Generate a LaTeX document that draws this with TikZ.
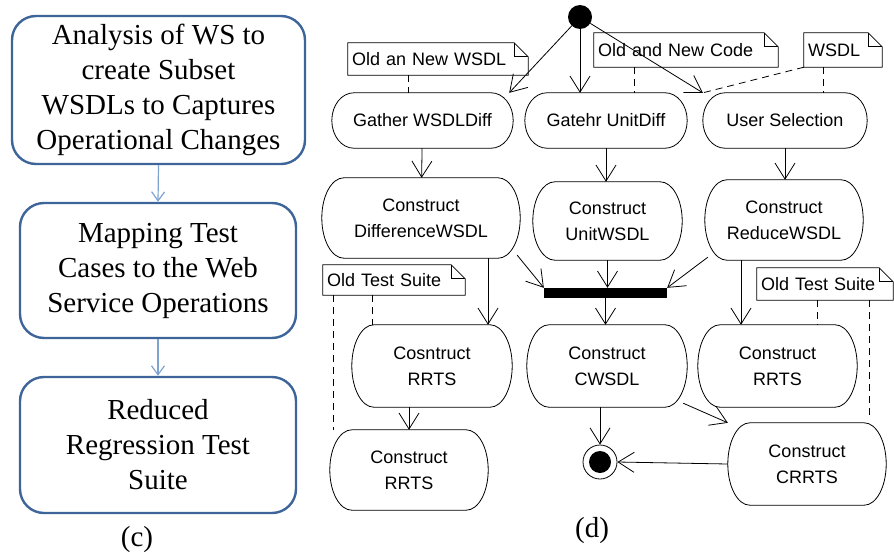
\documentclass[tikz,border=0pt]{standalone}
\usepackage{fontspec}
\setmainfont{Liberation Serif}
\newfontfamily\umlfont{Liberation Sans}
\usetikzlibrary{arrows.meta}
\usetikzlibrary{calc}
\definecolor{boxblue}{HTML}{3E6599}
\definecolor{linkblue}{HTML}{7FA3D0}
\def\umltext{\umlfont\fontsize{18}{26}\selectfont}
% note with folded corner: name, position, text width, height, text
\def\umlnote#1#2#3#4#5{
  \node [note, text width=#3, minimum height=#4] (#1) at (#2) {#5};
  \draw [line width=0.8pt] ([xshift=-14pt]#1.north east) -- (#1.north west)
    -- (#1.south west) -- (#1.south east) -- ([yshift=-14pt]#1.north east) -- cycle;
  \draw [line width=0.8pt] ([xshift=-14pt]#1.north east) |- ([yshift=-14pt]#1.north east);
}
% action with half-elliptic ends: name, position, width, height, text
\def\umlaction#1#2#3#4#5{
  \node [action, minimum width=#3, minimum height=#4] (#1) at (#2) {#5};
  \coordinate (#1-tr) at ([xshift=-22pt]#1.north east);
  \coordinate (#1-br) at ([xshift=-22pt]#1.south east);
  \coordinate (#1-bl) at ([xshift=22pt]#1.south west);
  \coordinate (#1-tl) at ([xshift=22pt]#1.north west);
  \draw [line width=0.8pt] (#1-tl) -- (#1-tr)
    .. controls ($(#1-tr)!0.552!(#1.north east)$) and ($(#1.east)!0.552!(#1.north east)$) .. (#1.east)
    .. controls ($(#1.east)!0.552!(#1.south east)$) and ($(#1-br)!0.552!(#1.south east)$) .. (#1-br)
    -- (#1-bl)
    .. controls ($(#1-bl)!0.552!(#1.south west)$) and ($(#1.west)!0.552!(#1.south west)$) .. (#1.west)
    .. controls ($(#1.west)!0.552!(#1.north west)$) and ($(#1-tl)!0.552!(#1.north west)$) .. (#1-tl);
}

\begin{document}
\begin{tikzpicture}[x=1pt, y=-1pt,
  stepbox/.style={draw=boxblue, line width=2.4pt, rounded corners=24pt,
    align=center, font=\fontsize{29}{35}\selectfont, inner sep=2pt},
  bluelink/.style={draw=linkblue, line width=1.2pt,
    -{Straight Barb[length=9pt,width=13pt]}},
  action/.style={align=center, font=\umltext, inner sep=2pt},
  flow/.style={line width=0.8pt, -{Straight Barb[length=16pt,width=20pt]}},
  anchorline/.style={line width=0.8pt, dash pattern=on 7pt off 5pt},
  note/.style={font=\umltext, align=left, inner xsep=4pt, inner ysep=1pt}
]
\useasboundingbox (0,0) rectangle (894,554);

% (c) the three steps
\node [stepbox, minimum width=293pt, minimum height=148pt] (analysis) at (158.5,90)
  {Analysis of WS to\\create Subset\\WSDLs to Captures\\Operational Changes};
\node [stepbox, minimum width=276pt, minimum height=135pt] (mapping) at (158,270.5)
  {Mapping Test\\Cases to the Web\\Service Operations};
\node [stepbox, minimum width=276pt, minimum height=136pt] (reduced) at (158,445)
  {Reduced\\Regression Test\\Suite};
\draw [bluelink] (analysis.south) -- (mapping.north);
\draw [bluelink] (mapping.south) -- (reduced.north);
\node [font=\fontsize{29}{35}\selectfont] (labelc) at (137,540) {(c)};

% (d) activity diagram
\node [circle, fill, minimum size=24pt, inner sep=0pt] (start) at (580,17) {};

\umlnote{wsdlnote}{438,59}{172pt}{32pt}{Old an New WSDL}
\umlnote{codenote}{686,50}{176pt}{34pt}{Old and New Code}
\umlnote{usernote}{843,50}{70pt}{34pt}{WSDL}
\umlnote{suitenoteA}{394,280}{134pt}{30pt}{Old Test Suite}
\umlnote{suitenoteB}{825,284}{128pt}{32pt}{Old Test Suite}

\umlaction{gather}{422.5,120.5}{181pt}{55pt}{Gather WSDLDiff}
\umlaction{unitdiff}{606,120.5}{162pt}{55pt}{Gatehr UnitDiff}
\umlaction{usersel}{785,120.5}{164pt}{55pt}{User Selection}

\umlaction{diffwsdl}{421,218}{198pt}{80pt}{Construct\\DifferenceWSDL}
\umlaction{unitwsdl}{607.5,221}{149pt}{78pt}{Construct\\UnitWSDL}
\umlaction{reducewsdl}{784,220}{158pt}{80pt}{Construct\\ReduceWSDL}

\node [fill, minimum width=123pt, minimum height=10pt, inner sep=0pt] (bar) at (605.5,293) {};

\umlaction{rrtsA}{432,366}{160pt}{82pt}{Cosntruct\\RRTS}
\umlaction{cwsdl}{607,366}{160pt}{82pt}{Construct\\CWSDL}
\umlaction{rrtsC}{777.5,366}{159pt}{82pt}{Construct\\RRTS}
\umlaction{rrtsB}{409,470}{158pt}{80pt}{Construct\\RRTS}
\umlaction{crrts}{807,464}{158pt}{82pt}{Construct\\CRRTS}

\node [circle, draw, line width=0.8pt, minimum size=34pt, inner sep=0pt] (final) at (600,462) {};
\node [circle, fill, minimum size=22pt, inner sep=0pt] (finaldot) at (final) {};

\node [font=\fontsize{29}{35}\selectfont] (labeld) at (592,531) {(d)};

% dashed note anchors
\coordinate (wsdlfoot) at ([xshift=-30pt]wsdlnote.south);
\coordinate (codefoot) at ([xshift=-52pt]codenote.south);
\coordinate (userfoot) at ([xshift=-20pt]usernote.south);
\coordinate (suitefootA) at ([xshift=-22pt]suitenoteA.south);
\coordinate (suitelongA) at ([xshift=-61pt]suitenoteA.south);
\coordinate (suitefootB) at ([xshift=-8pt]suitenoteB.south);
\coordinate (suitelongB) at ([xshift=44pt]suitenoteB.south);
\draw [anchorline] (wsdlfoot) -- (wsdlfoot |- gather.north);
\draw [anchorline] (codefoot) -- (codefoot |- unitdiff.north);
\draw [anchorline] (userfoot) -- (userfoot |- usersel.north);
\draw [anchorline] (usernote.south west) -- (usersel.north west);
\draw [anchorline] (suitefootA) -- (suitefootA |- rrtsA.north);
\draw [anchorline] (suitelongA) -- (suitelongA |- rrtsB.north);
\draw [anchorline] (suitefootB) -- (suitefootB |- rrtsC.north);
\draw [anchorline, shorten >=6pt] (suitelongB) -- (suitelongB |- crrts.north);

% control flow
\draw [flow] (start) -- ([xshift=-4pt]gather.north east);
\draw [flow] (start) -- (start |- unitdiff.north);
\draw [flow] (start) -- (usersel.north west);
\draw [flow] (gather) -- (diffwsdl);
\draw [flow] (unitdiff) -- (unitdiff |- unitwsdl.north);
\draw [flow] (usersel) -- (usersel |- reducewsdl.north);
\draw [flow] ([shift={(-3,-3)}]diffwsdl.south east) -- (bar.north west);
\draw [flow] (unitwsdl) -- (unitwsdl |- bar.north);
\draw [flow] ([shift={(3,-3)}]reducewsdl.south west) -- (bar.north east);
\draw [flow] (bar) -- (bar |- cwsdl.north);
\coordinate (difffoot) at ([xshift=67pt]diffwsdl.south);
\draw [flow] (difffoot) -- (difffoot |- rrtsA.north);
\coordinate (reducefoot) at ([xshift=-43pt]reducewsdl.south);
\draw [flow] (reducefoot) -- (reducefoot |- rrtsC.north);
\draw [flow] (rrtsB.north |- rrtsA.south) -- (rrtsB.north);
\draw [flow] (final |- cwsdl.south) -- (final.north);
\draw [flow] ([shift={(-4,-4)}]cwsdl.south east) -- (crrts.north west);
\draw [flow] (crrts.west) -- (final.east);
\end{tikzpicture}
\end{document}
